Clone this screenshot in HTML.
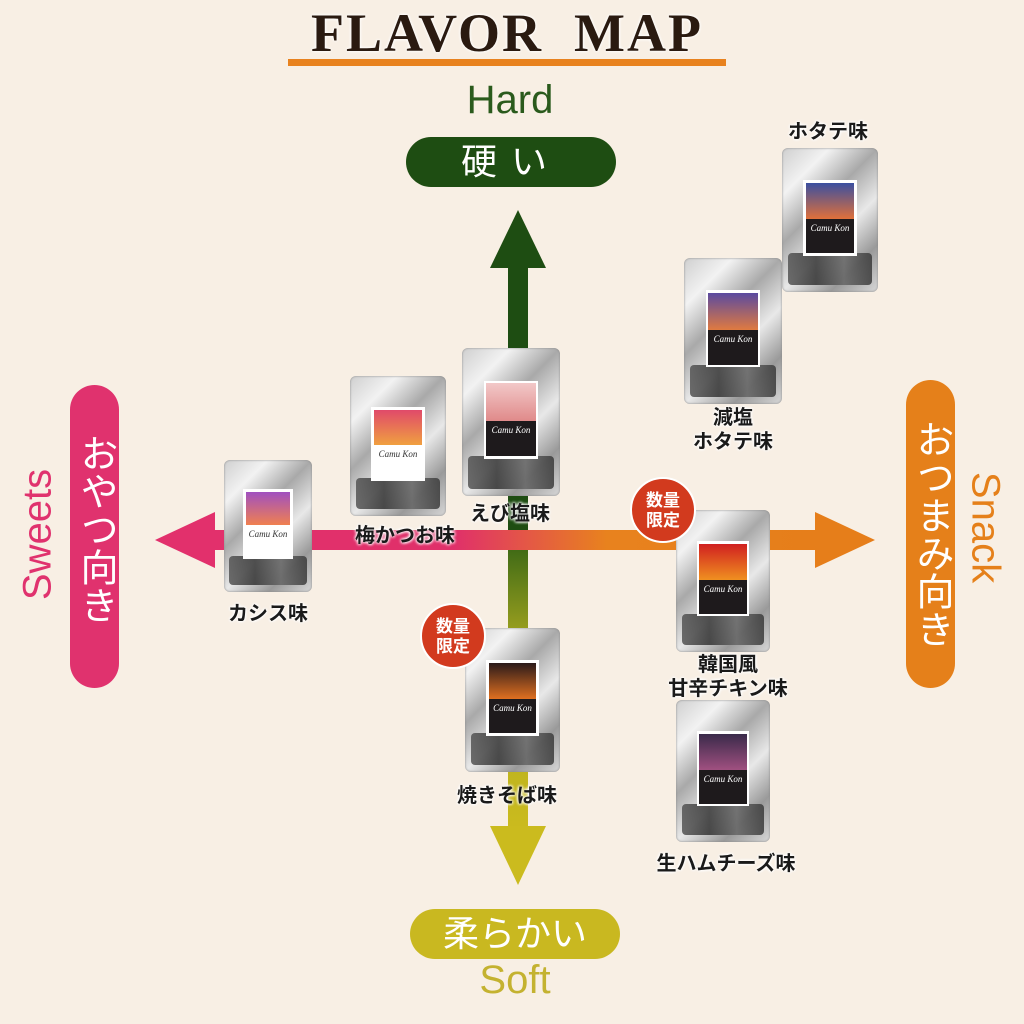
<!DOCTYPE html>
<html><head><meta charset="utf-8">
<style>
body{margin:0;width:1024px;height:1024px;background:#f8efe4;position:relative;overflow:hidden;font-family:"Liberation Sans","Noto Sans CJK JP",sans-serif}
.a{position:absolute}
.bag{position:absolute;border-radius:6px;background:linear-gradient(135deg,#cfcfcf 0%,#f2f2f2 20%,#a9a9a9 40%,#e8e8e8 60%,#9a9a9a 80%,#d8d8d8 100%);box-shadow:0 0 2px #888 inset}
.bag .bot{position:absolute;left:6%;right:6%;bottom:5%;height:22%;background:linear-gradient(90deg,#555,#333,#666,#3a3a3a);border-radius:4px;opacity:.85}
.bag .lab{position:absolute;left:22%;right:22%;top:22%;height:53%;background:#fff;padding:3%;box-sizing:border-box}
.bag .lab .t{height:52%}
.bag .lab .d{height:48%;background:#1e1a1c;color:#fff;font:italic 9px "Liberation Serif",serif;text-align:center;padding-top:4px;box-sizing:border-box}
.lbl{position:absolute;font-weight:bold;font-size:20px;color:#1a1a1a;text-align:center;line-height:24px;text-shadow:0 0 3px #fff,0 0 3px #fff,0 0 3px #fff;transform:translateX(-50%);white-space:nowrap}
.badge{position:absolute;width:66px;height:66px;border-radius:50%;background:#d23a1e;color:#fff;font-weight:bold;font-size:17px;line-height:20px;text-align:center;box-sizing:border-box;padding-top:12px;border:2px solid #fff}
.pill{position:absolute;color:#fff;font-size:36px;text-align:center}
</style></head><body>

<div class="a" style="left:288px;top:59px;width:438px;height:7px;background:#e8821e"></div>
<div class="a" style="left:288px;top:2px;width:438px;text-align:center;font:bold 54px 'Liberation Serif',serif;color:#2a1a10;letter-spacing:2px;text-shadow:0 0 3px #fff,0 0 3px #fff">FLAVOR&nbsp; MAP</div>

<div class="a" style="left:410px;top:78px;width:200px;text-align:center;font-size:40px;color:#2a5a1c">Hard</div>
<div class="pill" style="left:406px;top:137px;width:210px;height:50px;border-radius:25px;background:#1e4d12;line-height:50px;letter-spacing:14px">硬い</div>

<div class="a" style="left:410px;top:958px;width:210px;text-align:center;font-size:40px;color:#c4b230">Soft</div>
<div class="pill" style="left:410px;top:909px;width:210px;height:50px;border-radius:25px;background:#c9b820;line-height:50px">柔らかい</div>

<div class="pill" style="left:70px;top:385px;width:49px;height:303px;border-radius:25px;background:#e0326e;writing-mode:vertical-rl;line-height:49px;font-size:38px;padding-top:40px;box-sizing:border-box"><span style="position:relative;top:-28px">おやつ向き</span></div>
<div class="a" style="left:-42px;top:512px;width:160px;text-align:center;font-size:40px;color:#e0326e;transform:rotate(-90deg)">Sweets</div>

<div class="pill" style="left:906px;top:380px;width:49px;height:308px;border-radius:25px;background:#e5801a;writing-mode:vertical-rl;line-height:49px;font-size:38px;padding-top:32px;box-sizing:border-box"><span style="position:relative;top:-16px">おつまみ向き</span></div>
<div class="a" style="left:905px;top:505px;width:160px;text-align:center;font-size:40px;color:#e5801a;transform:rotate(90deg)">Snack</div>

<svg class="a" style="left:0;top:0" width="1024" height="1024">
<defs>
<linearGradient id="h" x1="0" x2="1"><stop offset="0" stop-color="#e2306c"/><stop offset=".4" stop-color="#e0306a"/><stop offset=".65" stop-color="#e8821e"/><stop offset="1" stop-color="#e67e1a"/></linearGradient>
<linearGradient id="v" x1="0" x2="0" y1="0" y2="1"><stop offset="0" stop-color="#3f6a16"/><stop offset=".35" stop-color="#a9a820"/><stop offset="1" stop-color="#cbbb1e"/></linearGradient>
</defs>
<rect x="508" y="262" width="20" height="290" fill="#1e4d12"/>
<polygon points="518,210 546,268 490,268" fill="#1e4d12"/>
<rect x="508" y="548" width="20" height="282" fill="url(#v)"/>
<polygon points="518,885 546,826 490,826" fill="#cbbb1e"/>
<rect x="210" y="530" width="610" height="20" fill="url(#h)"/>
<polygon points="155,540 215,512 215,568" fill="#e2306c"/>
<polygon points="875,540 815,512 815,568" fill="#e67e1a"/>
</svg>

<div class="bag" style="left:782px;top:148px;width:96px;height:144px"><div class="bot"></div><div class="lab"><div class="t" style="background:linear-gradient(180deg,#3a4fa0,#e0703a)"></div><div class="d">Camu Kon</div></div></div>
<div class="lbl" style="left:828px;top:120px">ホタテ味</div>

<div class="bag" style="left:684px;top:258px;width:98px;height:146px"><div class="bot"></div><div class="lab"><div class="t" style="background:linear-gradient(180deg,#5a4aa0,#e07a40)"></div><div class="d">Camu Kon</div></div></div>
<div class="lbl" style="left:733px;top:406px">減塩<br>ホタテ味</div>

<div class="bag" style="left:462px;top:348px;width:98px;height:148px"><div class="bot"></div><div class="lab"><div class="t" style="background:linear-gradient(180deg,#f2c8c8,#e08a8a)"></div><div class="d">Camu Kon</div></div></div>
<div class="lbl" style="left:510px;top:502px">えび塩味</div>

<div class="bag" style="left:350px;top:376px;width:96px;height:140px"><div class="bot"></div><div class="lab"><div class="t" style="background:linear-gradient(180deg,#e04a6a,#f0a040)"></div><div class="d" style="background:#fff;color:#333">Camu Kon</div></div></div>
<div class="lbl" style="left:405px;top:524px">梅かつお味</div>

<div class="bag" style="left:224px;top:460px;width:88px;height:132px"><div class="bot"></div><div class="lab"><div class="t" style="background:linear-gradient(180deg,#a050c0,#f08050)"></div><div class="d" style="background:#fff;color:#333">Camu Kon</div></div></div>
<div class="lbl" style="left:268px;top:602px">カシス味</div>

<div class="bag" style="left:676px;top:510px;width:94px;height:142px"><div class="bot"></div><div class="lab"><div class="t" style="background:linear-gradient(180deg,#d02020,#f09020)"></div><div class="d">Camu Kon</div></div></div>
<div class="lbl" style="left:728px;top:653px">韓国風<br>甘辛チキン味</div>
<div class="badge" style="left:630px;top:477px">数量<br>限定</div>

<div class="bag" style="left:465px;top:628px;width:95px;height:144px"><div class="bot"></div><div class="lab"><div class="t" style="background:linear-gradient(180deg,#2a1a1a,#e07020)"></div><div class="d">Camu Kon</div></div></div>
<div class="lbl" style="left:507px;top:784px">焼きそば味</div>
<div class="badge" style="left:420px;top:603px">数量<br>限定</div>

<div class="bag" style="left:676px;top:700px;width:94px;height:142px"><div class="bot"></div><div class="lab"><div class="t" style="background:linear-gradient(180deg,#3a2a4a,#a05080)"></div><div class="d">Camu Kon</div></div></div>
<div class="lbl" style="left:726px;top:852px">生ハムチーズ味</div>

</body></html>
